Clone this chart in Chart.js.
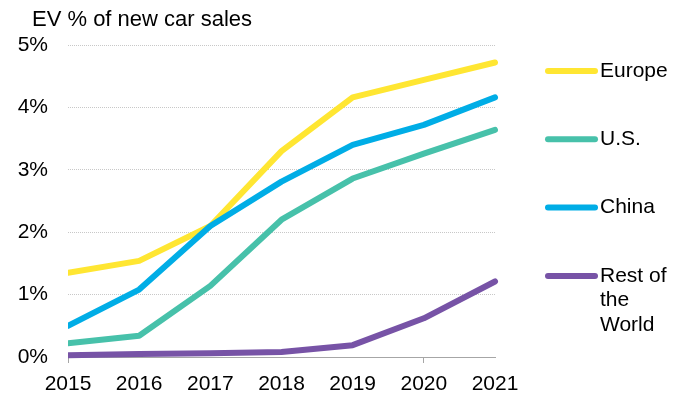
<!DOCTYPE html>
<html>
<head>
<meta charset="utf-8">
<script src="https://cdn.jsdelivr.net/npm/chart.js@4"></script>
<style>
  body { margin: 0; background: #fff; }
  #wrap { width: 676px; height: 396px; }
</style>
</head>
<body>
<div id="wrap"><canvas id="evChart" width="676" height="396"></canvas></div>
<script>
const years = ['2015', '2016', '2017', '2018', '2019', '2020', '2021'];
const seriesNames = ['Europe', 'U.S.', 'China', 'Rest of the World'];
const seriesColors = ['#FFE632', '#47C1AA', '#00ADE6', '#7753A6'];
const europe = [1.35, 1.54, 2.1, 3.3, 4.16, 4.44, 4.72];
const us = [0.22, 0.34, 1.14, 2.2, 2.86, 3.26, 3.64];
const china = [0.5, 1.08, 2.1, 2.81, 3.4, 3.72, 4.16];
const rest = [0.03, 0.05, 0.06, 0.08, 0.19, 0.62, 1.21];
const yTicks = [0, 1, 2, 3, 4, 5];
const chartTitle = 'EV % of new car sales';

const FONT = '"Liberation Sans", Arial, sans-serif';

// title + legend on the right, drawn by hand so the legend can wrap
const decor = {
    id: 'decor',
    afterDraw(chart) {
        const ctx = chart.ctx;
        ctx.save();
        ctx.fillStyle = '#000';
        ctx.font = '22px ' + FONT;
        ctx.textBaseline = 'alphabetic';
        ctx.textAlign = 'left';
        ctx.fillText(chartTitle, 32, 26);

        ctx.font = '21px ' + FONT;
        ctx.textBaseline = 'middle';
        chart.data.datasets.forEach((ds, i) => {
            const y = 71 + i * 68.3;
            ctx.strokeStyle = ds.borderColor;
            ctx.lineWidth = 6;
            ctx.lineCap = 'round';
            ctx.beginPath();
            ctx.moveTo(548, y);
            ctx.lineTo(595, y);
            ctx.stroke();

            // simple word wrap
            const words = ds.label.split(' ');
            const lines = [];
            let cur = '';
            words.forEach(w => {
                const t = cur ? cur + ' ' + w : w;
                if (cur && ctx.measureText(t).width > 76) { lines.push(cur); cur = w; }
                else cur = t;
            });
            lines.push(cur);
            ctx.fillStyle = '#000';
            lines.forEach((l, k) => ctx.fillText(l, 600, y + k * 24.5));
        });
        ctx.restore();
    }
};

const allData = [europe, us, china, rest];
const drawOrder = [2, 3, 1, 4];

new Chart(document.getElementById('evChart').getContext('2d'), {
    type: 'line',
    data: {
        labels: years,
        datasets: allData.map((d, i) => ({
            label: seriesNames[i],
            data: d,
            borderColor: seriesColors[i],
            backgroundColor: seriesColors[i],
            borderWidth: 6,
            borderCapStyle: 'round',
            borderJoinStyle: 'round',
            tension: 0,
            pointRadius: 0,
            order: drawOrder[i],
            clip: { left: 0, top: 6, right: 6, bottom: 6 }
        }))
    },
    options: {
        responsive: false,
        animation: false,
        devicePixelRatio: 1,
        layout: { padding: { left: 0, right: 181, top: 45, bottom: 0 } },
        plugins: {
            legend: { display: false },
            title: { display: false },
            tooltip: { enabled: false }
        },
        scales: {
            x: {
                offset: false,
                grid: {
                    drawOnChartArea: false,
                    drawTicks: true,
                    tickLength: 6,
                    tickColor: c => (c.index === 0 || c.index === 5) ? '#a6a6a6' : 'rgba(0,0,0,0)'
                },
                border: { display: true, color: '#a6a6a6', width: 1 },
                ticks: {
                    color: '#000',
                    font: { family: FONT, size: 21 },
                    padding: 9,
                    maxRotation: 0,
                    autoSkip: false
                },
                afterFit: s => { s.height = 39; }
            },
            y: {
                min: yTicks[0],
                max: yTicks[yTicks.length - 1],
                afterBuildTicks: s => { s.ticks = yTicks.map(v => ({ value: v })); },
                grid: { color: '#c8c8c8', lineWidth: 1, drawTicks: false },
                border: { display: false, dash: [1, 1] },
                ticks: {
                    color: '#000',
                    font: { family: FONT, size: 21 },
                    padding: 20,
                    callback: v => v + '%'
                },
                afterFit: s => { s.width = 68; }
            }
        }
    },
    plugins: [decor]
});
</script>
</body>
</html>
